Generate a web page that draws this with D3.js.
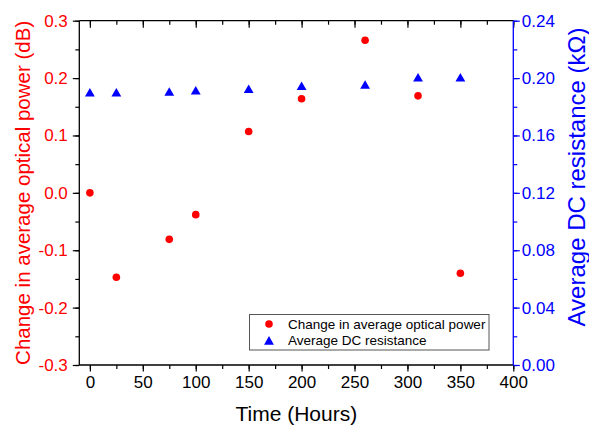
<!DOCTYPE html>
<html lang="en">
<meta charset="utf-8">
<script src='https://d3js.org/d3.v7.min.js'></script>
<style>
    body {
        margin: 0;
        background: white;
    }
    text {
        font-family: "Liberation Sans", Arial, sans-serif;
    }
</style>
<body>
  <svg width=589 height=426 id="chart"></svg>
  <script>
    // hours at which measurements were taken
    var hours = [0, 25, 75, 100, 150, 200, 260, 310, 350];
    // change in average optical power (dB)
    var powerChange = [0.0, -0.147, -0.081, -0.038, 0.107, 0.164, 0.266, 0.169, -0.140];
    // average DC resistance (kOhm)
    var resistance = [0.190, 0.190, 0.1905, 0.1915, 0.1925, 0.1945, 0.1955, 0.2005, 0.2005];

    var xTicks = [0, 50, 100, 150, 200, 250, 300, 350, 400];
    var leftTicks = [-0.3, -0.2, -0.1, 0.0, 0.1, 0.2, 0.3];
    var rightTicks = [0.00, 0.04, 0.08, 0.12, 0.16, 0.20, 0.24];

    var svg = d3.select('#chart');
    var pLeft = 79.3, pRight = 513.3, pTop = 20.7, pBottom = 365;

    var x = d3.scaleLinear().domain([-10, 400]).range([pLeft, pRight]);
    var y = d3.scaleLinear().domain([-0.3, 0.3]).range([pBottom, pTop]);
    var y2 = d3.scaleLinear().domain([0, 0.24]).range([pBottom, pTop]);

    var red = "#ff0000", blue = "#0000ff";
    var tickFont = "17px";
    var fam = '"Liberation Sans", Arial, sans-serif';
    var fmt1 = function(d) { return d3.format(".1f")(d).replace("\u2212", "-"); };

    // bottom axis
    svg.append("g")
      .attr("transform", "translate(0," + pBottom + ")")
      .call(d3.axisBottom(x).tickValues(d3.range(0, 401, 25)).tickSize(4).tickFormat(""))
      .call(g => g.select(".domain").remove())
      .call(g => g.selectAll("line").attr("stroke", "black").attr("stroke-width", 1.2));
    svg.append("g")
      .attr("transform", "translate(0," + pBottom + ")")
      .call(d3.axisBottom(x).tickValues(xTicks).tickSize(6.5).tickPadding(4))
      .call(g => g.select(".domain").remove())
      .call(g => g.selectAll("line").attr("stroke", "black").attr("stroke-width", 1.2))
      .call(g => g.selectAll("text").attr("fill", "black").style("font-size", tickFont).style("font-family", fam));

    // top axis (mirror ticks pointing inward)
    svg.append("g")
      .attr("transform", "translate(0," + pTop + ")")
      .call(d3.axisBottom(x).tickValues(d3.range(0, 401, 25)).tickSize(4).tickFormat(""))
      .call(g => g.select(".domain").remove())
      .call(g => g.selectAll("line").attr("stroke", "black").attr("stroke-width", 1.2));
    svg.append("g")
      .attr("transform", "translate(0," + pTop + ")")
      .call(d3.axisBottom(x).tickValues(xTicks).tickSize(7).tickFormat(""))
      .call(g => g.select(".domain").remove())
      .call(g => g.selectAll("line").attr("stroke", "black").attr("stroke-width", 1.2));

    // left axis
    svg.append("g")
      .attr("transform", "translate(" + pLeft + ",0)")
      .call(d3.axisLeft(y).tickValues(d3.range(-6, 7).map(d => d * 0.05)).tickSize(4).tickFormat(""))
      .call(g => g.select(".domain").remove())
      .call(g => g.selectAll("line").attr("stroke", "black").attr("stroke-width", 1.2));
    svg.append("g")
      .attr("transform", "translate(" + pLeft + ",0)")
      .call(d3.axisLeft(y).tickValues(leftTicks).tickSize(6.5).tickPadding(5).tickFormat(fmt1))
      .call(g => g.select(".domain").remove())
      .call(g => g.selectAll("line").attr("stroke", "black").attr("stroke-width", 1.2))
      .call(g => g.selectAll("text").attr("fill", red).style("font-size", tickFont).style("font-family", fam));

    // right axis
    svg.append("g")
      .attr("transform", "translate(" + pRight + ",0)")
      .call(d3.axisRight(y2).tickValues(d3.range(0, 13).map(d => d * 0.02)).tickSize(4).tickFormat(""))
      .call(g => g.select(".domain").remove())
      .call(g => g.selectAll("line").attr("stroke", blue).attr("stroke-width", 1.2));
    svg.append("g")
      .attr("transform", "translate(" + pRight + ",0)")
      .call(d3.axisRight(y2).tickValues(rightTicks).tickSize(6.5).tickPadding(2).tickFormat(d3.format(".2f")))
      .call(g => g.select(".domain").remove())
      .call(g => g.selectAll("line").attr("stroke", blue).attr("stroke-width", 1.2))
      .call(g => g.selectAll("text").attr("fill", blue).style("font-size", tickFont).style("font-family", fam));

    // frame lines
    svg.append("line").attr("x1", pLeft).attr("x2", pRight).attr("y1", pTop).attr("y2", pTop)
      .attr("stroke", "black").attr("stroke-width", 1.3);
    svg.append("line").attr("x1", pLeft).attr("x2", pRight).attr("y1", pBottom).attr("y2", pBottom)
      .attr("stroke", "black").attr("stroke-width", 1.3);
    svg.append("line").attr("x1", pLeft).attr("x2", pLeft).attr("y1", pTop).attr("y2", pBottom)
      .attr("stroke", "black").attr("stroke-width", 1.3);
    svg.append("line").attr("x1", pRight).attr("x2", pRight).attr("y1", pTop).attr("y2", pBottom)
      .attr("stroke", blue).attr("stroke-width", 1.3);

    // data points
    var pts = hours.map(function(h, i) { return {h: h, p: powerChange[i], r: resistance[i]}; });

    var tri = d3.symbol().type(d3.symbolTriangle).size(42);
    var triShift = 1.3;

    svg.append("g").selectAll("path")
      .data(pts)
      .enter()
      .append("path")
      .attr("d", tri)
      .attr("transform", function(d) { return "translate(" + x(d.h) + "," + (y2(d.r) + triShift) + ")"; })
      .attr("fill", blue);

    svg.append("g").selectAll("circle")
      .data(pts)
      .enter()
      .append("circle")
      .attr("cx", function(d) { return x(d.h); })
      .attr("cy", function(d) { return y(d.p); })
      .attr("r", 3.8)
      .attr("fill", red);

    // axis titles
    svg.append("text")
      .attr("transform", "translate(30," + ((pTop + pBottom) / 2) + ") rotate(-90)")
      .style("text-anchor", "middle")
      .style("font-size", "20.5px")
      .attr("fill", red)
      .text("Change in average optical power (dB)");

    svg.append("text")
      .attr("transform", "translate(585," + 177 + ") rotate(-90)")
      .style("text-anchor", "middle")
      .style("font-size", "24px")
      .attr("fill", blue)
      .text("Average DC resistance (k\u03A9)");

    svg.append("text")
      .attr("x", (pLeft + pRight) / 2)
      .attr("y", 421)
      .style("text-anchor", "middle")
      .style("font-size", "21px")
      .attr("fill", "black")
      .text("Time (Hours)");

    // legend
    var legend = svg.append("g");
    legend.append("rect")
      .attr("x", 249.5).attr("y", 314.5).attr("width", 239.5).attr("height", 35.5)
      .attr("fill", "white").attr("stroke", "#555").attr("stroke-width", 1);
    legend.append("circle").attr("cx", 269).attr("cy", 324).attr("r", 3.8).attr("fill", red);
    legend.append("path").attr("d", tri).attr("transform", "translate(269," + (340.5 + triShift) + ")").attr("fill", blue);
    legend.append("text").attr("x", 288).attr("y", 324).attr("dy", "0.35em")
      .style("font-size", "13.5px").text("Change in average optical power");
    legend.append("text").attr("x", 288).attr("y", 340.5).attr("dy", "0.35em")
      .style("font-size", "13.5px").text("Average DC resistance");
  </script>
</body>
</html>
